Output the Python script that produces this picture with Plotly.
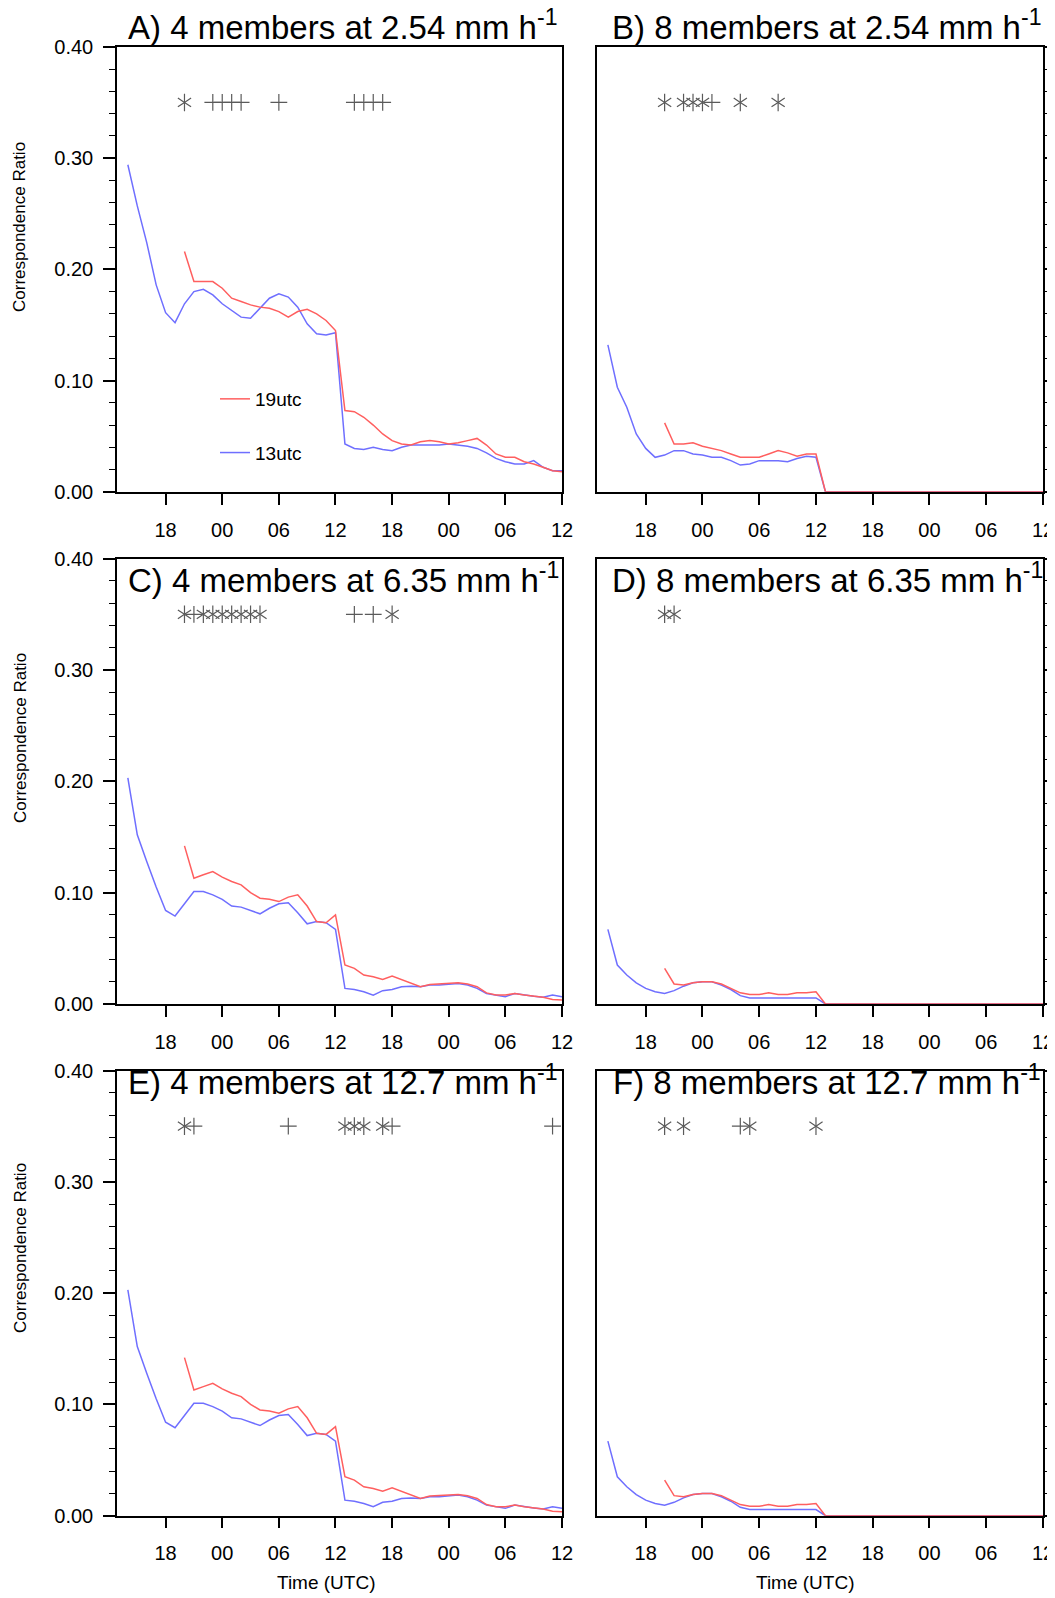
import plotly.graph_objects as go

# ---------------- data ----------------
HOURS_13 = list(range(1, 48))   # forecast hours after 13 UTC (13utc run)
HOURS_19 = list(range(7, 48))   # same time axis, 19utc run starts at 20 UTC
TICK_HOURS = [5, 11, 17, 23, 29, 35, 41, 47]
TICK_LABELS = ["18", "00", "06", "12", "18", "00", "06", "12"]
Y_TICKS = [0.0, 0.1, 0.2, 0.3, 0.4]
Y_TICK_LABELS = ["0.00", "0.10", "0.20", "0.30", "0.40"]
SIG_LEVEL = 0.35

a_13utc = [0.294, 0.257, 0.224, 0.186, 0.161, 0.152, 0.169, 0.180, 0.182, 0.177,
           0.169, 0.163, 0.157, 0.156, 0.165, 0.174, 0.178, 0.175, 0.166, 0.151,
           0.142, 0.141, 0.143, 0.043, 0.039, 0.038, 0.040, 0.038, 0.037, 0.040,
           0.042, 0.042, 0.042, 0.042, 0.043, 0.042, 0.041, 0.039, 0.035, 0.030,
           0.027, 0.025, 0.025, 0.028, 0.022, 0.019, 0.019]
a_19utc = [0.216, 0.189, 0.189, 0.189, 0.183, 0.174, 0.171, 0.168, 0.166, 0.165,
           0.162, 0.157, 0.162, 0.164, 0.160, 0.154, 0.145, 0.073, 0.072, 0.067,
           0.060, 0.052, 0.046, 0.043, 0.042, 0.045, 0.046, 0.045, 0.043, 0.044,
           0.046, 0.048, 0.042, 0.034, 0.031, 0.031, 0.027, 0.025, 0.022, 0.019,
           0.018]

b_13utc = [0.132, 0.094, 0.076, 0.052, 0.039, 0.031, 0.033, 0.037, 0.037, 0.034,
           0.033, 0.031, 0.031, 0.028, 0.024, 0.025, 0.028, 0.028, 0.028, 0.027,
           0.030, 0.032, 0.031, 0.0, 0.0, 0.0, 0.0, 0.0, 0.0, 0.0,
           0.0, 0.0, 0.0, 0.0, 0.0, 0.0, 0.0, 0.0, 0.0, 0.0,
           0.0, 0.0, 0.0, 0.0, 0.0, 0.0, 0.0]
b_19utc = [0.062, 0.043, 0.043, 0.044, 0.041, 0.039, 0.037, 0.034, 0.031, 0.031,
           0.031, 0.034, 0.037, 0.035, 0.032, 0.034, 0.034, 0.0, 0.0, 0.0,
           0.0, 0.0, 0.0, 0.0, 0.0, 0.0, 0.0, 0.0, 0.0, 0.0,
           0.0, 0.0, 0.0, 0.0, 0.0, 0.0, 0.0, 0.0, 0.0, 0.0,
           0.0]

c_13utc = [0.203, 0.152, 0.128, 0.105, 0.084, 0.079, 0.090, 0.101, 0.101, 0.098,
           0.094, 0.088, 0.087, 0.084, 0.081, 0.086, 0.090, 0.091, 0.082, 0.072,
           0.074, 0.073, 0.067, 0.014, 0.013, 0.011, 0.008, 0.012, 0.013, 0.0155,
           0.016, 0.0155, 0.017, 0.017, 0.018, 0.0185, 0.017, 0.014, 0.0095, 0.008,
           0.0066, 0.0095, 0.008, 0.007, 0.006, 0.008, 0.0066]
c_19utc = [0.142, 0.113, 0.116, 0.119, 0.114, 0.110, 0.107, 0.100, 0.095, 0.094,
           0.092, 0.096, 0.098, 0.088, 0.074, 0.073, 0.080, 0.035, 0.032, 0.026,
           0.0245, 0.022, 0.025, 0.022, 0.0185, 0.0155, 0.0176, 0.018, 0.019, 0.019,
           0.018, 0.0155, 0.010, 0.008, 0.008, 0.0095, 0.008, 0.007, 0.006, 0.004,
           0.0036]

d_13utc = [0.067, 0.035, 0.026, 0.019, 0.014, 0.011, 0.0095, 0.012, 0.016, 0.019,
           0.020, 0.020, 0.017, 0.013, 0.0075, 0.0055, 0.0055, 0.0055, 0.0055, 0.0055,
           0.0055, 0.0055, 0.0055, 0.0, 0.0, 0.0, 0.0, 0.0, 0.0, 0.0,
           0.0, 0.0, 0.0, 0.0, 0.0, 0.0, 0.0, 0.0, 0.0, 0.0,
           0.0, 0.0, 0.0, 0.0, 0.0, 0.0, 0.0]
d_19utc = [0.032, 0.018, 0.017, 0.019, 0.020, 0.020, 0.018, 0.014, 0.010, 0.0085,
           0.0085, 0.010, 0.0085, 0.0085, 0.010, 0.010, 0.011, 0.0, 0.0, 0.0,
           0.0, 0.0, 0.0, 0.0, 0.0, 0.0, 0.0, 0.0, 0.0, 0.0,
           0.0, 0.0, 0.0, 0.0, 0.0, 0.0, 0.0, 0.0, 0.0, 0.0,
           0.0]

e_13utc = c_13utc
e_19utc = c_19utc
f_13utc = d_13utc
f_19utc = d_19utc

a_star, a_plus = [7], [10, 11, 12, 13, 17, 25, 26, 27, 28]
b_star, b_plus = [7, 9, 10, 11, 15, 19], [12]
c_star, c_plus = [7, 9, 10, 11, 12, 13, 14, 15, 29], [8, 25, 27]
d_star, d_plus = [7, 8], []
e_star, e_plus = [7, 24, 25, 26, 28], [8, 18, 29, 46]
f_star, f_plus = [7, 9, 16, 23], [15]

panels = [
    ("A", 4, "2.54", a_13utc, a_19utc, a_star, a_plus),
    ("B", 8, "2.54", b_13utc, b_19utc, b_star, b_plus),
    ("C", 4, "6.35", c_13utc, c_19utc, c_star, c_plus),
    ("D", 8, "6.35", d_13utc, d_19utc, d_star, d_plus),
    ("E", 4, "12.7", e_13utc, e_19utc, e_star, e_plus),
    ("F", 8, "12.7", f_13utc, f_19utc, f_star, f_plus),
]

# ---------------- styling / layout geometry ----------------
PAGE_W, PAGE_H = 1055, 1598
BODY_MARGIN = 8                  # default browser body margin around the figure div
W, H = PAGE_W - BODY_MARGIN, PAGE_H - BODY_MARGIN
BLUE = "#6f6fff"
RED = "#ff5f5f"
GREY = "#5a5a5a"
FONT = "Liberation Sans, Arial, Helvetica, sans-serif"

# geometry in page pixels
col_px = [(117, 562), (597, 1043)]
row_px = [(46.8, 491.8), (558.6, 1004.0), (1070.5, 1515.7)]
title_cy = [25.0, 578.0, 1080.0]
title_cx = [343, 827]
ytitle_cy = [227, 738, 1248]

def px_x(v):
    return (v - BODY_MARGIN) / W

def px_y(v):
    return 1 - (v - BODY_MARGIN) / H

fig = go.Figure()
layout = dict(
    width=W, height=H,
    margin=dict(l=0, r=0, t=0, b=0, pad=0, autoexpand=False),
    paper_bgcolor="white", plot_bgcolor="white",
    font=dict(family=FONT, size=20, color="black"),
    annotations=[],
    legend=dict(
        x=px_x(215), y=px_y(380), xanchor="left", yanchor="top",
        bgcolor="rgba(0,0,0,0)", font=dict(size=19, family=FONT),
        tracegroupgap=26, itemwidth=30,
    ),
    showlegend=True,
)

for i, (key, members, rate, blue, red, star, plus) in enumerate(panels):
    r, c = divmod(i, 2)
    n = i + 1
    xa = "x" if n == 1 else f"x{n}"
    ya = "y" if n == 1 else f"y{n}"
    first = (i == 0)

    fig.add_trace(go.Scatter(
        x=HOURS_13, y=blue, mode="lines", name="13utc",
        line=dict(color=BLUE, width=1.5),
        xaxis=xa, yaxis=ya, showlegend=first, legendgroup="b13", legendrank=2,
    ))
    fig.add_trace(go.Scatter(
        x=HOURS_19, y=red, mode="lines", name="19utc",
        line=dict(color=RED, width=1.5),
        xaxis=xa, yaxis=ya, showlegend=first, legendgroup="r19", legendrank=1,
    ))
    for sym in ("y-up-open", "y-down-open"):
        fig.add_trace(go.Scatter(
            x=star, y=[SIG_LEVEL] * len(star), mode="markers",
            marker=dict(symbol=sym, size=11, color=GREY,
                        line=dict(color=GREY, width=1.2)),
            xaxis=xa, yaxis=ya, showlegend=False,
        ))
    fig.add_trace(go.Scatter(
        x=plus, y=[SIG_LEVEL] * len(plus), mode="markers",
        marker=dict(symbol="cross-thin-open", size=12, color=GREY,
                    line=dict(color=GREY, width=1.2)),
        xaxis=xa, yaxis=ya, showlegend=False,
    ))

    x0, x1 = col_px[c]
    top, bot = row_px[r]
    xkey = "xaxis" if n == 1 else f"xaxis{n}"
    ykey = "yaxis" if n == 1 else f"yaxis{n}"
    layout[xkey] = dict(
        domain=[px_x(x0), px_x(x1)], anchor=ya, automargin=False,
        range=[-0.15, 47], tickmode="array",
        tickvals=TICK_HOURS, ticktext=TICK_LABELS,
        ticks="outside", ticklen=11, tickwidth=1.5, tickcolor="black",
        showline=True, linewidth=1.5, linecolor="black", mirror=True,
        showgrid=False, zeroline=False, ticklabelstandoff=8,
        tickfont=dict(size=20, family=FONT),
    )
    layout[ykey] = dict(
        domain=[px_y(bot), px_y(top)], anchor=xa, automargin=False,
        range=[0, 0.4], tickmode="array",
        tickvals=Y_TICKS, ticktext=Y_TICK_LABELS,
        ticks="outside", ticklen=12, tickwidth=1.5, tickcolor="black",
        minor=dict(dtick=0.02, ticks="outside", ticklen=6, tickwidth=1,
                   tickcolor="black"),
        showline=True, linewidth=1.5, linecolor="black", mirror=True,
        showgrid=False, zeroline=False,
        side="left" if c == 0 else "right",
        showticklabels=(c == 0), ticklabelstandoff=6,
        tickfont=dict(size=20, family=FONT),
    )

    layout["annotations"].append(dict(
        text=f"{key}) {members} members at {rate} mm h<sup>-1</sup>",
        xref="paper", yref="paper",
        x=px_x(title_cx[c]), y=px_y(title_cy[r]),
        xanchor="center", yanchor="middle", showarrow=False,
        font=dict(size=33, family=FONT, color="black"),
    ))
    if c == 0:
        layout["annotations"].append(dict(
            text="Correspondence Ratio", xref="paper", yref="paper",
            x=px_x(20), y=px_y(ytitle_cy[r]), textangle=-90,
            xanchor="center", yanchor="middle", showarrow=False,
            font=dict(size=17, family=FONT, color="black"),
        ))
    if r == 2:
        layout["annotations"].append(dict(
            text="Time (UTC)", xref="paper", yref="paper",
            x=px_x(326 if c == 0 else 805), y=px_y(1582),
            xanchor="center", yanchor="middle", showarrow=False,
            font=dict(size=19, family=FONT, color="black"),
        ))

fig.update_layout(**layout)
fig.write_html("out.html")
